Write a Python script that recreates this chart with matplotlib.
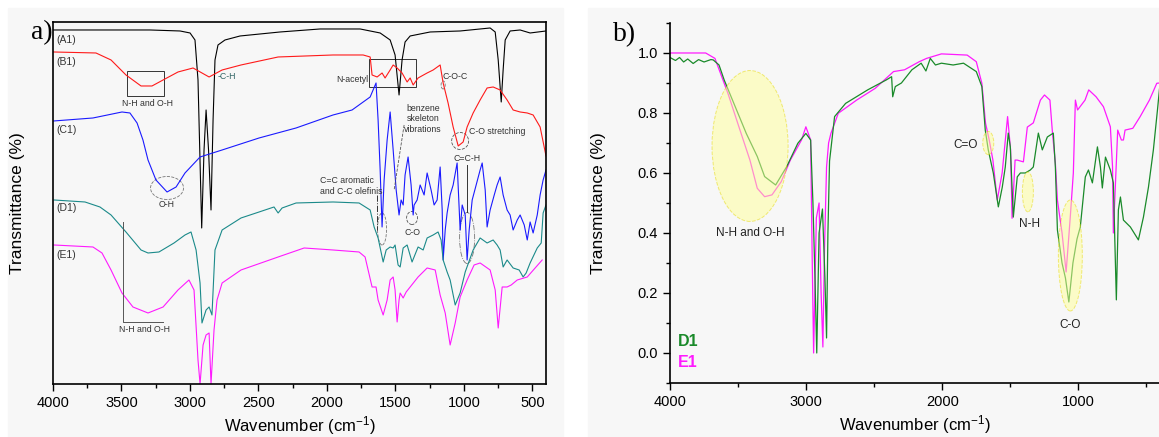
import matplotlib
matplotlib.use("Agg")
import matplotlib.pyplot as plt
from matplotlib.patches import Ellipse, Rectangle

plt.rcParams['font.family'] = ['Liberation Sans', 'DejaVu Sans']
plt.rcParams['mathtext.default'] = 'regular'

# ---------------- panel a: stacked spectra (arbitrary offset units) ----------------
a1_wn = [4000, 3291, 3072, 2999, 2963, 2941, 2914, 2897, 2882, 2864, 2846, 2831, 2817, 2795, 2744,
         2634, 2342, 2050, 1757, 1684, 1611, 1538, 1502, 1473, 1451, 1429, 1392, 1246, 1027, 808,
         771, 749, 727, 713, 698, 662, 589, 516, 400]
a1_y = [354, 354, 353, 351, 344, 304, 156, 234, 274, 234, 174, 264, 324, 339, 344,
        348, 352, 355, 355, 353, 351, 344, 329, 289, 324, 342, 348, 352, 353, 356,
        352, 324, 282, 314, 344, 353, 354, 351, 353]

b1_wn = [3995, 3686, 3576, 3467, 3357, 3277, 3196, 3087, 2977, 2912, 2860, 2765, 2627, 2356, 1955,
         1735, 1684, 1670, 1633, 1597, 1575, 1538, 1516, 1487, 1451, 1414, 1392, 1370, 1334, 1268,
         1224, 1173, 1151, 1115, 1078, 1041, 1005, 976, 932, 881, 830, 786, 735, 684, 640, 589,
         537, 494, 443, 400]
b1_y = [332, 331, 324, 309, 298, 298, 304, 312, 316, 311, 307, 314, 319, 327, 329,
        329, 327, 309, 307, 311, 306, 314, 319, 316, 311, 302, 306, 299, 306, 311,
        314, 319, 301, 281, 257, 238, 242, 257, 271, 284, 296, 297, 294, 284, 274, 272,
        271, 269, 257, 228]

c1_wn = [3995, 3708, 3496, 3438, 3386, 3343, 3306, 3248, 3167, 3101, 3036, 2926, 2765, 2495, 2225,
         1955, 1816, 1684, 1641, 1626, 1611, 1597, 1582, 1560, 1538, 1516, 1494, 1473, 1458, 1443,
         1429, 1407, 1385, 1370, 1363, 1341, 1319, 1290, 1268, 1239, 1217, 1195, 1173, 1158, 1151,
         1136, 1122, 1100, 1078, 1049, 1027, 1012, 990, 976, 961, 939, 910, 881, 866, 844, 830,
         808, 778, 757, 735, 713, 684, 662, 640, 610, 589, 559, 537, 516, 494, 464, 443, 421, 400]
c1_y = [263, 266, 272, 271, 261, 244, 224, 204, 192, 197, 211, 227, 234, 246, 256,
        269, 274, 287, 301, 264, 214, 157, 204, 244, 272, 234, 194, 169, 184, 179,
        209, 227, 199, 169, 179, 184, 199, 189, 211, 194, 179, 184, 217, 174, 124,
        154, 171, 189, 199, 221, 154, 179, 169, 124, 154, 184, 199, 214, 221, 194, 157,
        174, 189, 199, 207, 189, 174, 169, 154, 164, 169, 159, 144, 162, 151, 169, 189, 204, 214]

d1_wn = [3993, 3766, 3657, 3576, 3467, 3357, 3306, 3226, 3116, 3036, 2992, 2955, 2926, 2912, 2882,
         2860, 2839, 2817, 2765, 2627, 2495, 2386, 2356, 2327, 2225, 1955, 1765, 1684, 1655, 1626,
         1589, 1567, 1538, 1516, 1502, 1480, 1465, 1443, 1414, 1378, 1334, 1297, 1268, 1224, 1188,
         1166, 1151, 1122, 1100, 1063, 1027, 990, 932, 881, 830, 786, 757, 735, 713, 684, 640,
         596, 567, 545, 516, 464, 435, 421, 400]
d1_y = [184, 182, 177, 169, 152, 134, 131, 132, 141, 149, 152, 134, 101, 61, 74,
        77, 69, 134, 154, 166, 172, 177, 171, 176, 181, 182, 181, 174, 157, 146,
        122, 134, 137, 136, 139, 119, 117, 136, 139, 122, 137, 134, 146, 149, 152,
        144, 124, 112, 104, 79, 91, 112, 134, 146, 141, 144, 139, 134, 117, 124, 116,
        114, 107, 111, 121, 136, 141, 171, 179]

e1_wn = [3993, 3708, 3642, 3576, 3496, 3416, 3306, 3196, 3087, 3007, 2970, 2941, 2926, 2904, 2882,
         2860, 2846, 2824, 2802, 2765, 2627, 2356, 2166, 1955, 1765, 1721, 1670, 1641, 1626, 1589,
         1560, 1538, 1516, 1502, 1487, 1473, 1465, 1443, 1421, 1392, 1334, 1268, 1209, 1173, 1136,
         1100, 1063, 1027, 976, 925, 881, 808, 771, 749, 720, 684, 654, 610, 537, 428]
e1_y = [139, 137, 131, 114, 91, 77, 71, 77, 94, 104, 94, 24, 0, 39, 49,
        51, 0, 54, 84, 101, 114, 127, 136, 134, 132, 127, 97, 97, 84, 69,
        84, 104, 107, 94, 62, 84, 91, 86, 92, 97, 107, 116, 114, 89, 71,
        39, 61, 87, 104, 119, 121, 114, 94, 56, 97, 97, 99, 104, 107, 124]

a_names = ['(A1)', '(B1)', '(C1)', '(D1)', '(E1)']
a_name_y = [344, 322, 254, 176, 129]
a_ticks = [4000, 3500, 3000, 2500, 2000, 1500, 1000, 500]

# ---------------- panel b: D1 and E1 transmittance ----------------
bd_wn = [4000, 3960, 3930, 3900, 3870, 3830, 3790, 3750, 3700, 3683, 3640, 3602, 3521, 3440, 3359,
         3305, 3224, 3143, 3061, 3002, 2967, 2950, 2935, 2922, 2905, 2880, 2862, 2850, 2840, 2828,
         2791, 2710, 2548, 2412, 2372, 2364, 2345, 2300, 2223, 2155, 2120, 2088, 2050, 2006, 1920,
         1844, 1750, 1709, 1684, 1662, 1625, 1588, 1559, 1537, 1515, 1500, 1478, 1449, 1426, 1390,
         1353, 1331, 1294, 1265, 1228, 1184, 1169, 1154, 1120, 1095, 1070, 1040, 1010, 986, 949,
         926, 897, 860, 838, 824, 801, 765, 743, 721, 706, 691, 669, 618, 559, 522, 485, 449, 419, 404]
bd_t = [0.985, 0.975, 0.985, 0.97, 0.98, 0.965, 0.978, 0.97, 0.978, 0.977, 0.96, 0.91, 0.821, 0.732, 0.655,
        0.588, 0.56, 0.621, 0.699, 0.732, 0.71, 0.5, 0.25, 0.0, 0.4, 0.48, 0.25, 0.05, 0.4, 0.64,
        0.788, 0.832, 0.877, 0.91, 0.921, 0.854, 0.888, 0.9, 0.944, 0.966, 0.94, 0.982, 0.96, 0.966, 0.96,
        0.966, 0.938, 0.888, 0.743, 0.677, 0.6, 0.487, 0.553, 0.62, 0.733, 0.687, 0.453, 0.587, 0.6, 0.6,
        0.61, 0.62, 0.733, 0.677, 0.72, 0.733, 0.62, 0.41, 0.3, 0.25, 0.17, 0.3, 0.38, 0.42, 0.587,
        0.61, 0.567, 0.687, 0.62, 0.55, 0.653, 0.61, 0.567, 0.177, 0.477, 0.52, 0.443, 0.42, 0.377, 0.453,
        0.553, 0.677, 0.81, 0.88]

be_wn = [4000, 3738, 3670, 3629, 3575, 3494, 3413, 3359, 3305, 3251, 3183, 3116, 3034, 3002, 2967,
         2955, 2945, 2925, 2905, 2890, 2877, 2865, 2850, 2835, 2818, 2764, 2629, 2493, 2358, 2277,
         2169, 2115, 2006, 1817, 1750, 1709, 1682, 1655, 1628, 1596, 1560, 1520, 1498, 1487, 1465,
         1449, 1404, 1375, 1331, 1279, 1249, 1209, 1190, 1169, 1154, 1120, 1090, 1060, 1037, 1022,
         1006, 951, 924, 870, 816, 765, 749, 743, 711, 684, 669, 657, 600, 546, 478, 424, 404]
be_t = [1.0, 1.0, 0.982, 0.932, 0.866, 0.754, 0.643, 0.549, 0.521, 0.527, 0.571, 0.643, 0.71, 0.754, 0.71,
        0.3, 0.0, 0.45, 0.5, 0.2, 0.02, 0.35, 0.62, 0.7, 0.732, 0.799, 0.843, 0.882, 0.938, 0.944,
        0.971, 0.982, 0.997, 0.993, 0.971, 0.899, 0.766, 0.71, 0.643, 0.51, 0.6, 0.788, 0.677, 0.449, 0.643,
        0.643, 0.637, 0.753, 0.767, 0.843, 0.86, 0.843, 0.732, 0.633, 0.51, 0.4, 0.27, 0.45, 0.6, 0.843,
        0.81, 0.843, 0.877, 0.854, 0.821, 0.754, 0.62, 0.4, 0.743, 0.71, 0.71, 0.743, 0.749, 0.788, 0.843,
        0.899, 0.9]

b_ticks = [4000, 3000, 2000, 1000]
b_minor = [3500, 2500, 1500, 500]
b_yticks = [0.0, 0.2, 0.4, 0.6, 0.8, 1.0]

fig = plt.figure(figsize=(11.59, 4.37), dpi=100)
fig.add_artist(Rectangle((0.0069, 0), 0.4789, 0.982, transform=fig.transFigure,
                         color='#f7f7f7', zorder=0))
fig.add_artist(Rectangle((0.5073, 0), 0.4927, 0.982, transform=fig.transFigure,
                         color='#f7f7f7', zorder=0))

# ---- panel a ----
ax = fig.add_axes([0.0457, 0.1213, 0.4254, 0.8284])
ax.set_facecolor('none')
lw = 0.8
ax.plot(a1_wn, a1_y, color='black', lw=lw)
ax.plot(b1_wn, b1_y, color='#ff1a1a', lw=lw)
ax.plot(c1_wn, c1_y, color='#1a1aff', lw=lw)
ax.plot(d1_wn, d1_y, color='#1b8a8a', lw=lw)
ax.plot(e1_wn, e1_y, color='#ff1aff', lw=lw)
ax.set_xlim(4000, 400)
ax.set_ylim(0, 362)
ax.set_xticks(a_ticks)
ax.set_xticks([3750, 3250, 2750, 2250, 1750, 1250, 750], minor=True)
ax.set_yticks([])
ax.tick_params(axis='x', direction='out', length=5, width=1, labelsize=10.5, top=False)
ax.tick_params(axis='x', which='minor', direction='out', length=3, width=1)
for s in ax.spines.values():
    s.set_linewidth(1.2)
ax.set_xlabel('Wavenumber (cm$^{-1}$)', fontsize=12)
ax.xaxis.set_label_coords(0.5, -0.083)
ax.set_ylabel('Transmittance (%)', fontsize=12.5)
ax.yaxis.set_label_coords(-0.057, 0.5)

for name, yy in zip(a_names, a_name_y):
    ax.text(3978, yy, name, fontsize=7.5, color='#333333', va='center', ha='left')

tc = '#333333'
fs = 6.3
ax.add_patch(Rectangle((3459, 288), -270, 25, fill=False, ec='#333333', lw=0.7))
ax.text(3313, 280, 'N-H and O-H', fontsize=fs, color=tc, ha='center', va='center')
ax.text(2795, 307, '-C-H', fontsize=fs, color='#336666', ha='left', va='center')
ax.text(1699, 304, 'N-acetyl', fontsize=fs, color=tc, ha='right', va='center')
ax.add_patch(Rectangle((1692, 297), -344, 28, fill=False, ec='#333333', lw=0.7))
ax.text(1158, 307, 'C-O-C', fontsize=fs, color=tc, ha='left', va='center')
ax.add_patch(Ellipse((1151, 299), 30, 8, fill=False, ec='#777777', lw=0.6, ls='--'))
ax.text(961, 252, 'C-O stretching', fontsize=fs, color=tc, ha='left', va='center')
ax.add_patch(Ellipse((1027, 243), 124, 17, fill=False, ec='#555555', lw=0.6, ls='--'))
ax.text(976, 225, 'C=C-H', fontsize=fs, color=tc, ha='center', va='center')
ax.plot([976, 976], [219, 172], color='#333333', lw=0.7)
ax.add_patch(Ellipse((976, 146), 110, 51, fill=False, ec='#777777', lw=0.6, ls='-.'))
ax.text(1297, 265, 'benzene\nskeleton\nvibrations', fontsize=fs, color=tc, ha='center',
        va='center', linespacing=1.15)
ax.plot([1436, 1509], [259, 194], color='#555555', lw=0.6, ls='--')
ax.text(2050, 198, 'C=C aromatic\nand C-C olefinis', fontsize=fs, color=tc, ha='left',
        va='center', linespacing=1.15)
ax.plot([1633, 1633], [189, 154], color='#333333', lw=0.7, ls='-.')
ax.add_patch(Ellipse((1597, 155), 66, 32, fill=False, ec='#777777', lw=0.6, ls='--'))
ax.text(1378, 151, 'C-O', fontsize=fs, color=tc, ha='center', va='center')
ax.add_patch(Ellipse((1378, 166), 80, 13, fill=False, ec='#555555', lw=0.6, ls='--'))
ax.text(3167, 179, 'O-H', fontsize=fs, color=tc, ha='center', va='center')
ax.add_patch(Ellipse((3167, 196), 241, 23, fill=False, ec='#777777', lw=0.6, ls='--'))
ax.plot([3489, 3489, 3196], [162, 62, 62], color='#555555', lw=0.7)
ax.text(3335, 54, 'N-H and O-H', fontsize=fs, color=tc, ha='center', va='center')

fig.text(0.027, 0.925, 'a)', fontsize=20, family='Liberation Serif', va='center')

# ---- panel b ----
bx = fig.add_axes([0.5781, 0.1236, 0.4228, 0.8238])
bx.set_facecolor('none')
bx.plot(be_wn, be_t, color='#ff1aff', lw=0.9)
bx.plot(bd_wn, bd_t, color='#1a8a2a', lw=0.9)
bx.set_xlim(4000, 400)
bx.set_ylim(-0.1, 1.1)
bx.set_xticks(b_ticks)
bx.set_xticks(b_minor, minor=True)
bx.set_yticks(b_yticks)
bx.set_yticklabels(['0.0', '0.2', '0.4', '0.6', '0.8', '1.0'])
bx.set_yticks([-0.1, 0.1, 0.3, 0.5, 0.7, 0.9, 1.1], minor=True)
bx.tick_params(direction='out', length=5, width=1, labelsize=10.5)
bx.tick_params(which='minor', direction='out', length=3, width=1)
bx.spines['top'].set_visible(False)
bx.spines['right'].set_visible(False)
bx.spines['left'].set_linewidth(1.2)
bx.spines['bottom'].set_linewidth(1.2)
bx.set_xlabel('Wavenumber (cm$^{-1}$)', fontsize=12)
bx.xaxis.set_label_coords(0.5, -0.083)
bx.set_ylabel('Transmittance (%)', fontsize=12.5)
bx.yaxis.set_label_coords(-0.131, 0.5)

yel = dict(fc='#ffff99', ec='#e6d800', alpha=0.5, lw=0.7, ls='--', zorder=3)
bx.add_patch(Ellipse((3412, 0.69), 559, 0.503, **yel))
bx.add_patch(Ellipse((1662, 0.70), 81, 0.077, **yel))
bx.add_patch(Ellipse((1371, 0.537), 81, 0.133, **yel))
bx.add_patch(Ellipse((1059, 0.325), 176, 0.37, **yel))
bfs = 8.5
bx.text(3412, 0.40, 'N-H and O-H', fontsize=bfs, color='#222222', ha='center', va='center')
bx.text(1831, 0.693, 'C=O', fontsize=bfs, color='#222222', ha='center', va='center')
bx.text(1360, 0.43, 'N-H', fontsize=bfs, color='#222222', ha='center', va='center')
bx.text(1059, 0.093, 'C-O', fontsize=bfs, color='#222222', ha='center', va='center')
bx.text(3940, 0.037, 'D1', fontsize=11.5, fontweight='bold', color='#1a8a2a', ha='left', va='center')
bx.text(3940, -0.033, 'E1', fontsize=11.5, fontweight='bold', color='#ff1aff', ha='left', va='center')

fig.text(0.529, 0.92, 'b)', fontsize=20, family='Liberation Serif', va='center')

fig.savefig('out.png', dpi=100)
